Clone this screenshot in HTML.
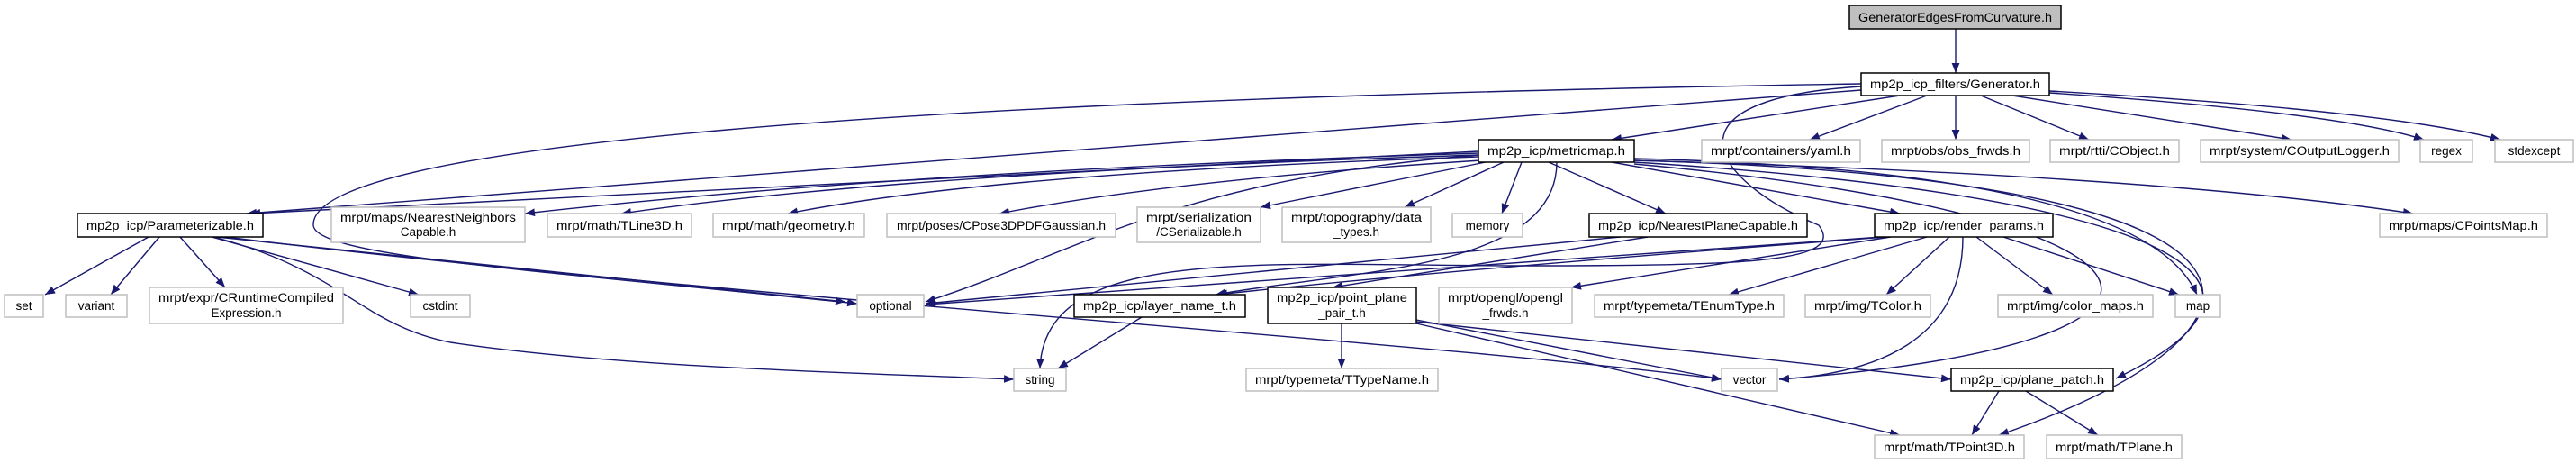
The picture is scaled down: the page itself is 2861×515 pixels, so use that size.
<!DOCTYPE html>
<html><head><meta charset="utf-8"><style>
html,body{margin:0;padding:0;background:#fff;}
svg{display:block;}
text{font-family:"Liberation Sans",sans-serif;font-size:13.5px;fill:#000;}
.e{fill:none;stroke:#191970;stroke-width:1.4;marker-end:url(#a);}
.g{fill:#fff;stroke:#bfbfbf;stroke-width:1.5;}
.b{fill:#fff;stroke:#000;stroke-width:1.5;}
</style></head><body>
<svg width="2861" height="515" viewBox="0 0 2861 515" xmlns="http://www.w3.org/2000/svg">
<defs><marker id="a" viewBox="0 0 10 8" refX="10" refY="4" markerWidth="11" markerHeight="9" markerUnits="userSpaceOnUse" orient="auto"><path d="M0,0 L10,4 L0,8z" fill="#191970"/></marker></defs>
<g>
<path class="e" d="M2172,32 L2172,81"/>
<path class="e" d="M2110,106 L1790,155"/>
<path class="e" d="M2140,106 L2010,155"/>
<path class="e" d="M2172,106 L2172,155"/>
<path class="e" d="M2200,106 L2320,155"/>
<path class="e" d="M2235,106 L2545,155"/>
<path class="e" d="M2276,103 Q2600,125 2692,155"/>
<path class="e" d="M2276,101 Q2650,122 2777,155"/>
<path class="e" d="M2067,100 L274,237"/>
<path class="e" d="M2067,93 C1000,110 345,160 348,250 C350,285 600,300 952,337"/>
<path class="e" d="M2067,96 C1840,110 1900,200 2020,250 C2050,290 1950,295 1700,295 C1400,295 1160,270 1155,409"/>
<path class="e" d="M1642,168 L278,237"/>
<path class="e" d="M1642,170 Q1000,190 583,237"/>
<path class="e" d="M1642,172 Q1000,192 690,237"/>
<path class="e" d="M1642,174 Q1100,192 875,237"/>
<path class="e" d="M1645,178 Q1300,200 1110,237"/>
<path class="e" d="M1650,180 L1400,230"/>
<path class="e" d="M1670,180 L1560,230"/>
<path class="e" d="M1690,180 L1668,237"/>
<path class="e" d="M1720,180 L1850,237"/>
<path class="e" d="M1790,180 L2110,237"/>
<path class="e" d="M1815,178 Q2400,195 2680,237"/>
<path class="e" d="M1815,176 Q2380,190 2440,327"/>
<path class="e" d="M1815,180 C2450,220 2560,320 2350,420"/>
<path class="e" d="M1815,178 C2600,200 2550,370 2220,483"/>
<path class="e" d="M1815,182 C2450,240 2500,380 1976,421"/>
<path class="e" d="M1642,172 C1300,200 1200,280 1028,335"/>
<path class="e" d="M1729,180 C1729,300 1500,300 1350,327"/>
<path class="e" d="M1800,263 L1028,337"/>
<path class="e" d="M1830,263 L1480,319"/>
<path class="e" d="M2090,263 L1028,338"/>
<path class="e" d="M2095,263 Q1600,300 1352,327"/>
<path class="e" d="M2100,263 L1745,319"/>
<path class="e" d="M2140,263 L1920,327"/>
<path class="e" d="M2165,263 L2095,327"/>
<path class="e" d="M2195,263 L2280,327"/>
<path class="e" d="M2225,263 L2420,327"/>
<path class="e" d="M2180,263 C2180,380 2080,415 1976,421"/>
<path class="e" d="M165,263 L50,327"/>
<path class="e" d="M177,263 L123,327"/>
<path class="e" d="M200,263 L250,319"/>
<path class="e" d="M235,263 L465,327"/>
<path class="e" d="M240,263 L939,335"/>
<path class="e" d="M237,263 C380,300 400,360 500,380 C700,410 1000,415 1126,421"/>
<path class="e" d="M250,263 C800,330 1600,380 1912,421"/>
<path class="e" d="M1268,352 L1175,409"/>
<path class="e" d="M1490,359 L1490,409"/>
<path class="e" d="M1573,355 L1912,421"/>
<path class="e" d="M1573,357 L2167,421"/>
<path class="e" d="M1573,359 L2110,483"/>
<path class="e" d="M2220,434 L2190,483"/>
<path class="e" d="M2250,434 L2330,483"/>
</g>
<g text-anchor="middle">
<rect x="2054" y="6" width="235" height="26" fill="#bfbfbf" stroke="#000" stroke-width="1.5"/><text x="2171.5" y="24" textLength="215" lengthAdjust="spacingAndGlyphs">GeneratorEdgesFromCurvature.h</text>
<rect class="b" x="2067" y="81" width="209" height="25"/><text x="2171.5" y="98" textLength="189" lengthAdjust="spacingAndGlyphs">mp2p_icp_filters/Generator.h</text>

<rect class="b" x="1642" y="155" width="173" height="25"/><text x="1728.5" y="172" textLength="153" lengthAdjust="spacingAndGlyphs">mp2p_icp/metricmap.h</text>
<rect class="g" x="1890" y="155" width="176" height="25"/><text x="1978" y="172" textLength="156" lengthAdjust="spacingAndGlyphs">mrpt/containers/yaml.h</text>
<rect class="g" x="2090" y="155" width="164" height="25"/><text x="2172" y="172" textLength="144" lengthAdjust="spacingAndGlyphs">mrpt/obs/obs_frwds.h</text>
<rect class="g" x="2277" y="155" width="143" height="25"/><text x="2348.5" y="172" textLength="123" lengthAdjust="spacingAndGlyphs">mrpt/rtti/CObject.h</text>
<rect class="g" x="2444" y="155" width="220" height="25"/><text x="2554" y="172" textLength="200" lengthAdjust="spacingAndGlyphs">mrpt/system/COutputLogger.h</text>
<rect class="g" x="2688" y="155" width="58" height="25"/><text x="2717" y="172">regex</text>
<rect class="g" x="2771" y="155" width="87" height="25"/><text x="2814.5" y="172">stdexcept</text>

<rect class="b" x="86" y="237" width="206" height="26"/><text x="189" y="255" textLength="186" lengthAdjust="spacingAndGlyphs">mp2p_icp/Parameterizable.h</text>
<rect class="g" x="368" y="230" width="215" height="39"/><text x="475.5" y="246" textLength="195" lengthAdjust="spacingAndGlyphs">mrpt/maps/NearestNeighbors</text><text x="475.5" y="262">Capable.h</text>
<rect class="g" x="608" y="237" width="160" height="26"/><text x="688" y="255" textLength="140" lengthAdjust="spacingAndGlyphs">mrpt/math/TLine3D.h</text>
<rect class="g" x="792" y="237" width="168" height="26"/><text x="876" y="255" textLength="148" lengthAdjust="spacingAndGlyphs">mrpt/math/geometry.h</text>
<rect class="g" x="985" y="237" width="254" height="26"/><text x="1112" y="255" textLength="232" lengthAdjust="spacingAndGlyphs">mrpt/poses/CPose3DPDFGaussian.h</text>
<rect class="g" x="1263" y="230" width="137" height="39"/><text x="1331.5" y="246" textLength="117" lengthAdjust="spacingAndGlyphs">mrpt/serialization</text><text x="1331.5" y="262">/CSerializable.h</text>
<rect class="g" x="1424" y="230" width="165" height="39"/><text x="1506.5" y="246" textLength="145" lengthAdjust="spacingAndGlyphs">mrpt/topography/data</text><text x="1506.5" y="262">_types.h</text>
<rect class="g" x="1613" y="237" width="78" height="26"/><text x="1652" y="255">memory</text>
<rect class="b" x="1765" y="237" width="242" height="26"/><text x="1886" y="255" textLength="222" lengthAdjust="spacingAndGlyphs">mp2p_icp/NearestPlaneCapable.h</text>
<rect class="b" x="2082" y="237" width="198" height="26"/><text x="2181" y="255" textLength="178" lengthAdjust="spacingAndGlyphs">mp2p_icp/render_params.h</text>
<rect class="g" x="2643" y="237" width="186" height="26"/><text x="2736" y="255" textLength="166" lengthAdjust="spacingAndGlyphs">mrpt/maps/CPointsMap.h</text>

<rect class="g" x="5" y="327" width="43" height="25"/><text x="26.5" y="344">set</text>
<rect class="g" x="73" y="327" width="68" height="25"/><text x="107" y="344">variant</text>
<rect class="g" x="166" y="319" width="215" height="40"/><text x="273.5" y="335" textLength="195" lengthAdjust="spacingAndGlyphs">mrpt/expr/CRuntimeCompiled</text><text x="273.5" y="352">Expression.h</text>
<rect class="g" x="456" y="327" width="66" height="25"/><text x="489" y="344">cstdint</text>
<rect class="g" x="952" y="327" width="74" height="25"/><text x="989" y="344">optional</text>
<rect class="b" x="1193" y="327" width="190" height="25"/><text x="1288" y="344" textLength="170" lengthAdjust="spacingAndGlyphs">mp2p_icp/layer_name_t.h</text>
<rect class="b" x="1408" y="319" width="165" height="40"/><text x="1490.5" y="335" textLength="145" lengthAdjust="spacingAndGlyphs">mp2p_icp/point_plane</text><text x="1490.5" y="352">_pair_t.h</text>
<rect class="g" x="1598" y="319" width="148" height="40"/><text x="1672" y="335" textLength="128" lengthAdjust="spacingAndGlyphs">mrpt/opengl/opengl</text><text x="1672" y="352">_frwds.h</text>
<rect class="g" x="1771" y="327" width="210" height="25"/><text x="1876" y="344" textLength="190" lengthAdjust="spacingAndGlyphs">mrpt/typemeta/TEnumType.h</text>
<rect class="g" x="2005" y="327" width="139" height="25"/><text x="2074.5" y="344" textLength="119" lengthAdjust="spacingAndGlyphs">mrpt/img/TColor.h</text>
<rect class="g" x="2219" y="327" width="172" height="25"/><text x="2305" y="344" textLength="152" lengthAdjust="spacingAndGlyphs">mrpt/img/color_maps.h</text>
<rect class="g" x="2416" y="327" width="50" height="25"/><text x="2441" y="344">map</text>

<rect class="g" x="1126" y="409" width="58" height="25"/><text x="1155" y="426">string</text>
<rect class="g" x="1384" y="409" width="213" height="25"/><text x="1490.5" y="426" textLength="193" lengthAdjust="spacingAndGlyphs">mrpt/typemeta/TTypeName.h</text>
<rect class="g" x="1912" y="409" width="62" height="25"/><text x="1943" y="426">vector</text>
<rect class="b" x="2167" y="409" width="180" height="25"/><text x="2257" y="426" textLength="160" lengthAdjust="spacingAndGlyphs">mp2p_icp/plane_patch.h</text>

<rect class="g" x="2082" y="483" width="166" height="26"/><text x="2165" y="501" textLength="146" lengthAdjust="spacingAndGlyphs">mrpt/math/TPoint3D.h</text>
<rect class="g" x="2273" y="483" width="150" height="26"/><text x="2348" y="501" textLength="130" lengthAdjust="spacingAndGlyphs">mrpt/math/TPlane.h</text>
</g>
</svg>
</body></html>
